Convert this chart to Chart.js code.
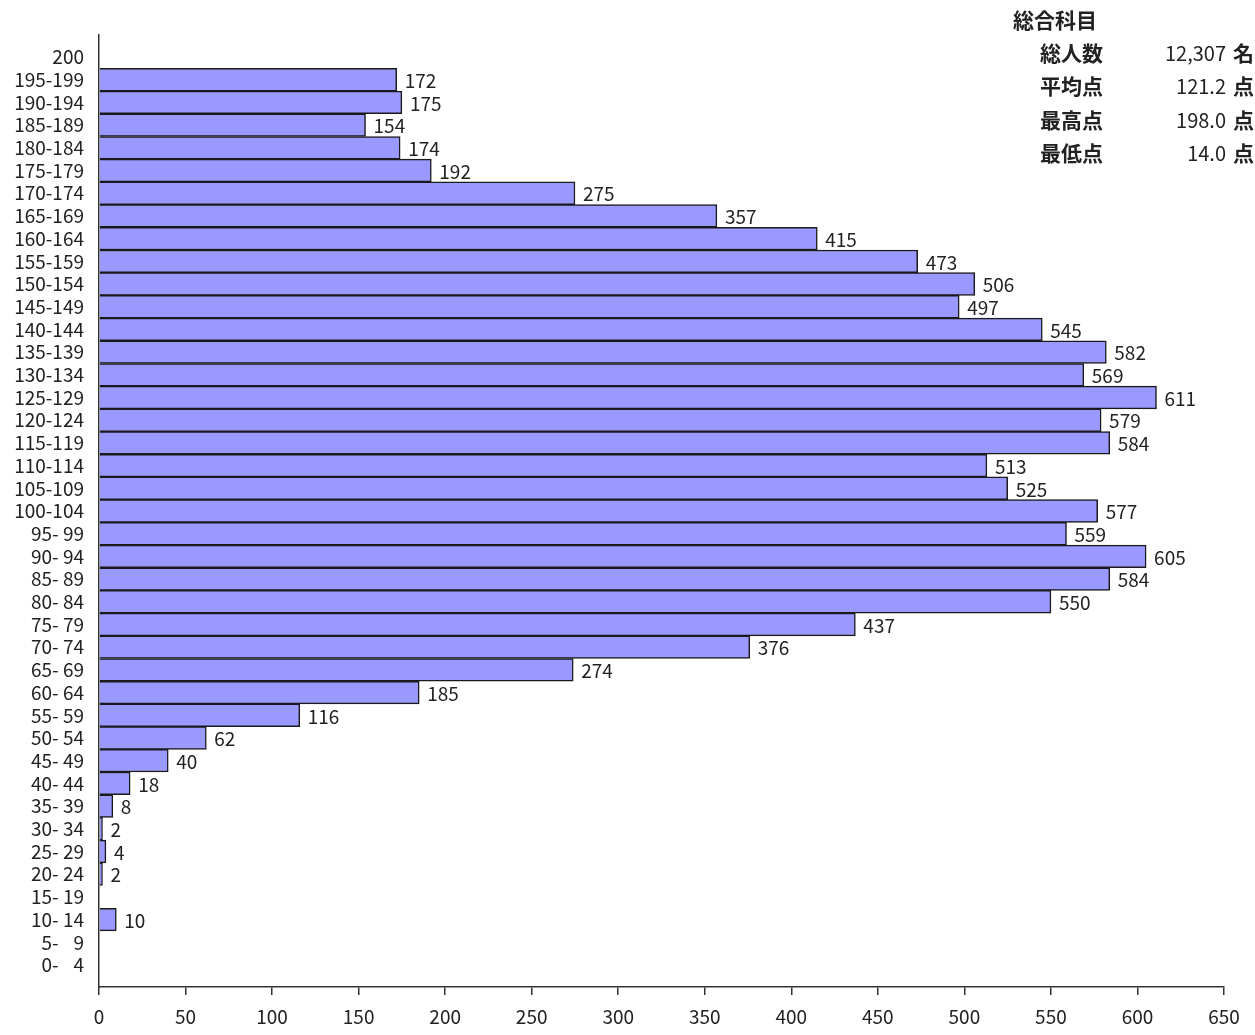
<!DOCTYPE html>
<html>
<head>
<meta charset="utf-8">
<script src="https://cdn.jsdelivr.net/npm/chart.js@4"></script>
<style>
  body { margin: 0; background: #fff; }
  #wrap { position: relative; width: 1255px; height: 1035px; }
  .st { position: absolute; font-family: "Noto Sans CJK JP", sans-serif; font-size: 21px; font-weight: bold; color: #222; line-height: 1; }
  .val { position: absolute; font-family: "Noto Sans CJK JP", sans-serif; font-size: 20px; color: #222; text-align: right; width: 120px; line-height: 1; }
</style>
</head>
<body>
<div id="wrap">
  <canvas id="dist" width="1255" height="1035"></canvas>
</div>
<script>
// score bands, top to bottom
var bands = ['200', '195-199', '190-194', '185-189', '180-184', '175-179', '170-174', '165-169',
    '160-164', '155-159', '150-154', '145-149', '140-144', '135-139', '130-134', '125-129',
    '120-124', '115-119', '110-114', '105-109', '100-104', '95- 99', '90- 94', '85- 89',
    '80- 84', '75- 79', '70- 74', '65- 69', '60- 64', '55- 59', '50- 54', '45- 49',
    '40- 44', '35- 39', '30- 34', '25- 29', '20- 24', '15- 19', '10- 14', '5-\u2007 9', '0-\u2007 4'];
var counts = [0, 172, 175, 154, 174, 192, 275, 357, 415, 473, 506, 497, 545, 582, 569, 611,
    579, 584, 513, 525, 577, 559, 605, 584, 550, 437, 376, 274, 185, 116, 62, 40,
    18, 8, 2, 4, 2, 0, 10, 0, 0];
var xTicks = [0, 50, 100, 150, 200, 250, 300, 350, 400, 450, 500, 550, 600, 650];

var statTitle = '総合科目';
var statNames = ['総人数', '平均点', '最高点', '最低点'];
var statValues = ['12,307', '121.2', '198.0', '14.0'];
var statUnits = ['名', '点', '点', '点'];

var wrap = document.getElementById('wrap');
function addText(cls, txt, left, y) {
    var d = document.createElement('div');
    d.className = cls;
    d.textContent = txt;
    d.style.left = left + 'px';
    d.style.top = y + 'px';
    wrap.appendChild(d);
}
addText('st', statTitle, 1013, 9);
for (var i = 0; i < statNames.length; i++) {
    var rowY = 42 + i * 33.4;
    addText('st', statNames[i], 1040, rowY);
    addText('val', statValues[i], 1106, rowY + 1);
    addText('st', statUnits[i], 1233, rowY);
}

var font = "'Noto Sans CJK JP', sans-serif";

var valueLabels = {
    id: 'valueLabels',
    afterDatasetsDraw(chart) {
        var ctx = chart.ctx;
        var meta = chart.getDatasetMeta(0);
        ctx.save();
        ctx.font = '19px ' + font;
        ctx.fillStyle = '#222';
        ctx.textBaseline = 'middle';
        ctx.textAlign = 'left';
        meta.data.forEach(function (bar, i) {
            if (!counts[i]) return;
            ctx.fillText(String(counts[i]), bar.x + 8, bar.y + 1);
        });
        ctx.restore();
    }
};

var ctx_dist = document.getElementById('dist');
new Chart(ctx_dist, {
    type: 'bar',
    data: {
        datasets: [{
            data: counts.map(function (v, i) { return { x: v || null, y: i }; }),
            backgroundColor: '#9999ff',
            borderColor: '#1a1a1a',
            borderWidth: 1.5,
            barPercentage: 1,
            categoryPercentage: 1
        }]
    },
    options: {
        indexAxis: 'y',
        responsive: false,
        animation: false,
        layout: { padding: { top: 35, right: 31, left: 0, bottom: 0 } },
        plugins: { legend: { display: false }, tooltip: { enabled: false } },
        scales: {
            x: {
                type: 'linear',
                min: 0,
                max: 650,
                afterBuildTicks: function (scale) {
                    scale.ticks = xTicks.map(function (v) { return { value: v }; });
                },
                afterFit: function (scale) { scale.height = 48; },
                grid: { drawOnChartArea: false, drawTicks: true, tickLength: 8, color: '#333', lineWidth: 1.5 },
                border: { display: true, color: '#333', width: 1.5 },
                ticks: { font: { family: font, size: 19 }, color: '#222', padding: 10, maxRotation: 0 }
            },
            y: {
                type: 'linear',
                offset: false,
                reverse: true,
                min: -0.97,
                max: bands.length - 1 + 0.97,
                afterBuildTicks: function (scale) {
                    scale.ticks = bands.map(function (b, i) { return { value: i }; });
                },
                afterFit: function (scale) { scale.width = 99; },
                grid: { display: false, drawTicks: false },
                border: { display: true, color: '#333', width: 1.5 },
                ticks: {
                    autoSkip: false,
                    font: { family: font, size: 19 },
                    color: '#222',
                    padding: 15,
                    callback: function (v) { return bands[v]; }
                }
            }
        }
    },
    plugins: [valueLabels]
});
</script>
</body>
</html>
